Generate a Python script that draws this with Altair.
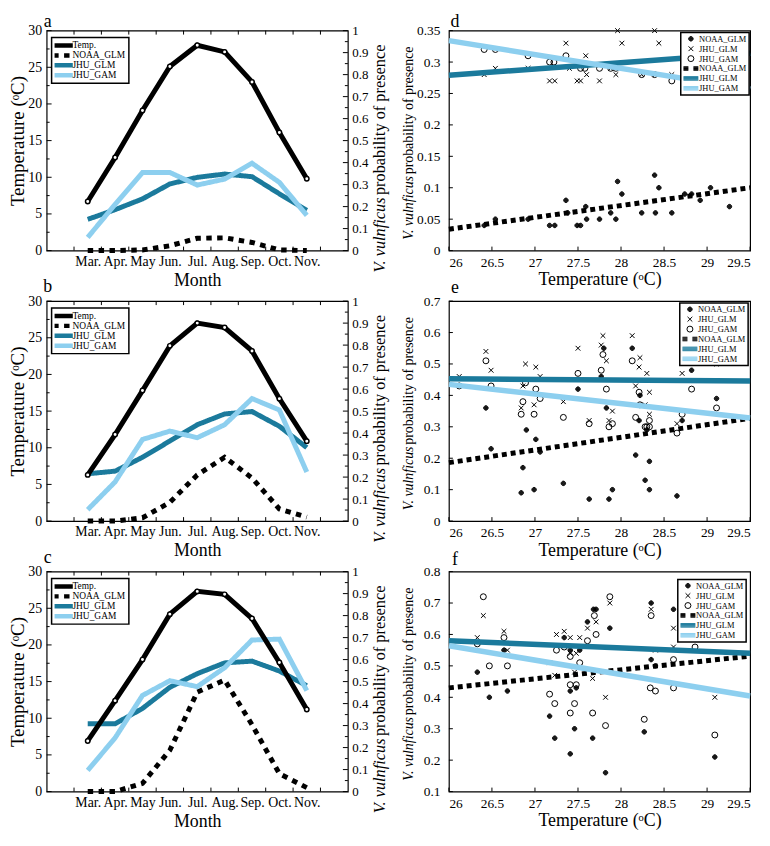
import altair as alt
import pandas as pd

FONT = "Liberation Serif"
TEAL = "#1b7a9c"
LIGHT = "#8dcfef"
W, H = 304, 222

# ---------------- left panels (monthly) ----------------
months = ["Mar.", "Apr.", "May", "Jun.", "Jul.", "Aug.", "Sep.", "Oct.", "Nov."]
month_num = [3, 4, 5, 6, 7, 8, 9, 10, 11]
month_ticks = [2.5, 3.5, 4.5, 5.5, 6.5, 7.5, 8.5, 9.5, 10.5, 11.5]
series_left = ["Temp.", "NOAA_GLM", "JHU_GLM", "JHU_GAM"]
temp_ticks = [0, 5, 10, 15, 20, 25, 30]
temp_minor = [2.5, 7.5, 12.5, 17.5, 22.5, 27.5]
prob_ticks = [0, 0.1, 0.2, 0.3, 0.4, 0.5, 0.6, 0.7, 0.8, 0.9, 1]
prob_minor = [0.05, 0.15, 0.25, 0.35, 0.45, 0.55, 0.65, 0.75, 0.85, 0.95]

temp_a = [6.7, 12.7, 19.1, 25.1, 28.0, 27.1, 23.0, 16.1, 9.8]
noaa_a = [0, 0, 0.003, 0.022, 0.056, 0.058, 0.037, 0.003, 0]
glm_a = [0.142, 0.186, 0.235, 0.303, 0.333, 0.348, 0.336, 0.258, 0.183]
gam_a = [0.06, 0.21, 0.355, 0.355, 0.298, 0.325, 0.397, 0.31, 0.16]

temp_b = [6.3, 11.8, 17.8, 23.9, 27.0, 26.4, 23.2, 16.7, 10.9]
noaa_b = [0, 0, 0.015, 0.085, 0.21, 0.29, 0.196, 0.055, 0.018]
glm_b = [0.215, 0.227, 0.29, 0.364, 0.438, 0.487, 0.498, 0.431, 0.334]
gam_b = [0.052, 0.178, 0.371, 0.409, 0.379, 0.438, 0.557, 0.505, 0.223]

temp_c = [6.9, 12.4, 18.0, 24.2, 27.3, 26.9, 23.6, 17.6, 11.2]
noaa_c = [0, 0, 0.037, 0.188, 0.452, 0.507, 0.304, 0.081, 0.018]
glm_c = [0.308, 0.308, 0.378, 0.474, 0.536, 0.585, 0.593, 0.548, 0.481]
gam_c = [0.096, 0.244, 0.437, 0.504, 0.477, 0.563, 0.689, 0.693, 0.459]

# ---------------- right panels (temperature) ----------------
temp_x_ticks = [26, 26.5, 27, 27.5, 28, 28.5, 29, 29.5]
pt_names = ["NOAA_GLM", "JHU_GLM", "JHU_GAM"]
line_names = ["NOAA_GLM ", "JHU_GLM ", "JHU_GAM "]
line_T = [26, 29.5]

d_ticks = [0, 0.05, 0.1, 0.15, 0.2, 0.25, 0.3, 0.35]
d_noaa_T = [26.41, 26.54, 26.92, 27.17, 27.23, 27.36, 27.38, 27.49, 27.53, 27.59, 27.6, 27.75, 27.88,
            27.94, 27.96, 28.01, 28.24, 28.39, 28.4, 28.44, 28.59, 28.74, 28.82, 28.92, 29.04, 29.26]
d_noaa_p = [0.04, 0.05, 0.05, 0.04, 0.04, 0.08, 0.06, 0.04, 0.04, 0.07, 0.05, 0.05, 0.06,
            0.05, 0.11, 0.09, 0.06, 0.12, 0.06, 0.10, 0.06, 0.09, 0.09, 0.08, 0.10, 0.07]
d_glm_T = [26.41, 26.54, 26.92, 27.17, 27.23, 27.36, 27.4, 27.49, 27.53, 27.59, 27.6, 27.75, 27.88,
           27.94, 27.96, 28.01, 28.24, 28.39, 28.4, 28.44, 28.59, 29.26]
d_glm_p = [0.28, 0.29, 0.29, 0.27, 0.27, 0.33, 0.29, 0.27, 0.27, 0.31, 0.28, 0.27, 0.29,
           0.28, 0.35, 0.33, 0.28, 0.35, 0.28, 0.33, 0.28, 0.26]
d_gam_T = [26.41, 26.54, 26.92, 27.17, 27.22, 27.36, 27.53, 27.58, 27.75, 27.88, 27.94, 28.24,
           28.39, 28.59, 29.04, 29.26, 29.35]
d_gam_p = [0.32, 0.32, 0.31, 0.30, 0.30, 0.31, 0.29, 0.29, 0.29, 0.29, 0.29, 0.28,
           0.28, 0.27, 0.26, 0.26, 0.26]
d_line_noaa = [0.034, 0.10]
d_line_glm = [0.279, 0.314]
d_line_gam = [0.334, 0.257]

e_ticks = [0, 0.1, 0.2, 0.3, 0.4, 0.5, 0.6, 0.7]
e_noaa_T = [26.43, 26.49, 26.84, 26.86, 26.9, 26.99, 27.01, 27.06, 27.33, 27.5, 27.63, 27.77, 27.8, 27.83,
            27.86, 27.9, 28.13, 28.17, 28.21, 28.22, 28.28, 28.3, 28.33, 28.33, 28.65, 28.71, 28.82, 29.11]
e_noaa_p = [0.36, 0.23, 0.09, 0.17, 0.29, 0.10, 0.26, 0.22, 0.12, 0.42, 0.07, 0.46, 0.55, 0.36,
            0.07, 0.10, 0.55, 0.21, 0.32, 0.40, 0.13, 0.29, 0.19, 0.10, 0.08, 0.32, 0.48, 0.39]
e_glm_T = [26.12, 26.43, 26.49, 26.84, 26.86, 26.89, 26.99, 27.01, 27.06, 27.33, 27.5, 27.63, 27.77, 27.79,
           27.83, 27.86, 27.9, 28.13, 28.17, 28.21, 28.22, 28.28, 28.3, 28.33, 28.33, 28.65, 28.71, 29.11]
e_glm_p = [0.46, 0.54, 0.48, 0.36, 0.43, 0.50, 0.37, 0.49, 0.46, 0.38, 0.55, 0.32, 0.56, 0.59,
           0.51, 0.32, 0.35, 0.59, 0.43, 0.49, 0.52, 0.37, 0.47, 0.34, 0.41, 0.31, 0.47, 0.50]
e_gam_T = [26.12, 26.43, 26.49, 26.84, 26.86, 26.89, 26.99, 27.01, 27.06, 27.33, 27.5, 27.63, 27.77, 27.79,
           27.83, 27.86, 27.9, 28.13, 28.17, 28.21, 28.22, 28.28, 28.3, 28.33, 28.33, 28.65, 28.71, 28.82, 29.11]
e_gam_p = [0.43, 0.51, 0.43, 0.34, 0.38, 0.44, 0.34, 0.42, 0.39, 0.33, 0.47, 0.31, 0.48, 0.53,
           0.42, 0.30, 0.31, 0.51, 0.33, 0.41, 0.37, 0.30, 0.30, 0.32, 0.30, 0.28, 0.34, 0.42, 0.36]
e_line_noaa = [0.186, 0.327]
e_line_glm = [0.453, 0.446]
e_line_gam = [0.435, 0.328]

f_ticks = [0.1, 0.2, 0.3, 0.4, 0.5, 0.6, 0.7, 0.8]
f_noaa_T = [26.33, 26.47, 26.64, 26.68, 27.17, 27.23, 27.34, 27.41, 27.41, 27.41, 27.46, 27.48, 27.52,
            27.61, 27.67, 27.68, 27.71, 27.82, 27.87, 28.27, 28.35, 28.35, 28.40, 28.61, 29.09]
f_noaa_p = [0.48, 0.40, 0.55, 0.42, 0.34, 0.27, 0.59, 0.55, 0.42, 0.22, 0.30, 0.43, 0.55,
            0.64, 0.27, 0.68, 0.68, 0.16, 0.62, 0.29, 0.70, 0.52, 0.50, 0.68, 0.21]
f_glm_T = [26.33, 26.40, 26.64, 26.68, 27.17, 27.23, 27.25, 27.34, 27.41, 27.41, 27.46, 27.48, 27.52,
           27.61, 27.67, 27.71, 27.82, 27.87, 28.35, 28.40, 28.61, 28.61, 29.09]
f_glm_p = [0.59, 0.66, 0.61, 0.55, 0.51, 0.47, 0.60, 0.61, 0.59, 0.54, 0.48, 0.54, 0.59,
           0.62, 0.46, 0.64, 0.40, 0.70, 0.68, 0.55, 0.62, 0.56, 0.40]
f_gam_T = [26.33, 26.40, 26.47, 26.64, 26.68, 27.17, 27.23, 27.25, 27.34, 27.41, 27.41, 27.41, 27.46,
           27.48, 27.52, 27.61, 27.67, 27.69, 27.71, 27.82, 27.87, 28.27, 28.34, 28.35, 28.40, 28.61,
           28.61, 28.86, 29.09]
f_gam_p = [0.57, 0.72, 0.50, 0.59, 0.50, 0.41, 0.38, 0.55, 0.56, 0.53, 0.35, 0.44, 0.38,
           0.44, 0.51, 0.58, 0.35, 0.66, 0.60, 0.31, 0.72, 0.33, 0.43, 0.66, 0.42, 0.43,
           0.52, 0.56, 0.28]
f_line_noaa = [0.43, 0.531]
f_line_glm = [0.58, 0.54]
f_line_gam = [0.564, 0.404]

# ---------------- helpers ----------------
DUMMY = pd.DataFrame({"d": [0]})
LABEL_EXPR = "[" + ",".join("'%s'" % m for m in months) + "][datum.value - %d]" % month_num[0]
TEMP_TITLE = "Temperature (\u1d52C)"


def ring(r):
    return "M-%s,0A%s,%s 0 1,0 %s,0A%s,%s 0 1,0 -%s,0" % (r, r, r, r, r, r, r)


# symbol paths (unit box -1..1, scaled by sqrt(size)/2)
DOT = "".join(ring(r) for r in ["0.75", "0.58", "0.41", "0.24", "0.08"])
XP = "M-0.8,-0.8L0.8,0.8M-0.8,0.8L0.8,-0.8"
BAND = "".join("M-2.5,%sH2.5" % y for y in ["-0.6", "-0.3", "0", "0.3", "0.6"])
DASHB = "".join("M-2.5,%sH-0.85M0.85,%sH2.5" % (y, y) for y in ["-0.6", "-0.3", "0", "0.3", "0.6"])


def yrules(values, scale, axis, x0, x1):
    return alt.Chart(pd.DataFrame({"v": values})).mark_rule(color="black", strokeWidth=1).encode(
        y=alt.Y("v:Q", scale=scale, axis=axis), x=alt.value(x0), x2=alt.value(x1))


def xrules(values, scale, axis, y0, y1):
    return alt.Chart(pd.DataFrame({"v": values})).mark_rule(color="black", strokeWidth=1).encode(
        x=alt.X("v:Q", scale=scale, axis=axis), y=alt.value(y0), y2=alt.value(y1))


def vtext(txt, x, y, size, italic):
    return alt.Chart(DUMMY).mark_text(
        text=txt, font=FONT, fontSize=size, fontStyle="italic" if italic else "normal",
        angle=270, align="left", baseline="alphabetic", color="black"
    ).encode(x=alt.value(x), y=alt.value(y))


def letter_text(ch, x, y):
    return alt.Chart(DUMMY).mark_text(
        text=ch, font=FONT, fontSize=18, align="center", baseline="alphabetic", color="black"
    ).encode(x=alt.value(x), y=alt.value(y))


def left_panel(letter, letter_y, temp, noaa, glm, gam):
    xs = alt.Scale(domain=[1.5, 12.5], nice=False, zero=False)
    x_axis = alt.Axis(values=month_num, labelExpr=LABEL_EXPR, title="Month", labelFontSize=14,
                      labelOverlap=False, labelPadding=4, titleFontSize=18, titlePadding=3)
    ys_t = alt.Scale(domain=[0, 30], nice=False, zero=False)
    ys_p = alt.Scale(domain=[0, 1], nice=False, zero=False)
    yt_axis = alt.Axis(orient="left", values=temp_ticks, title=TEMP_TITLE, labelFontSize=14,
                       labelPadding=5, titleFontSize=19, titlePadding=0)
    yp_axis = alt.Axis(orient="right", values=prob_ticks, format="~g", title=None,
                       labelFontSize=13, labelPadding=4)
    x_enc = alt.X("m:Q", scale=xs, axis=x_axis)
    yt_enc = alt.Y("t:Q", scale=ys_t, axis=yt_axis)
    yp_enc = alt.Y("p:Q", scale=ys_p, axis=yp_axis)
    leg = alt.Legend(title=None, orient="none", legendX=5, legendY=7, strokeColor="black",
                     fillColor="white", padding=3, rowPadding=0, clipHeight=10, symbolType="M-3.3,0H3.3",
                     symbolSize=36, symbolStrokeWidth=4.5, symbolOffset=3, labelOffset=4,
                     labelFontSize=9.5, labelFont=FONT, labelColor="black")
    color = alt.Color("s:N", scale=alt.Scale(domain=series_left, range=["black", "black", TEAL, LIGHT]),
                      legend=leg)
    dash = alt.StrokeDash("s:N", scale=alt.Scale(domain=series_left,
                                                 range=[[1, 0], [5.5, 5.5], [1, 0], [1, 0]]), legend=leg)
    prob_df = pd.DataFrame({"m": month_num * 3, "p": noaa + glm + gam,
                            "s": ["NOAA_GLM"] * 9 + ["JHU_GLM"] * 9 + ["JHU_GAM"] * 9})
    temp_df = pd.DataFrame({"m": month_num, "t": temp, "s": ["Temp."] * 9})

    prob_lines = alt.Chart(prob_df).mark_line(strokeWidth=5).encode(
        x=x_enc, y=yp_enc, color=color, strokeDash=dash)
    prob_group = alt.layer(
        prob_lines,
        yrules(prob_ticks, ys_p, yp_axis, W - 5, W),
        yrules(prob_minor, ys_p, yp_axis, W - 3, W),
        xrules(month_ticks, xs, x_axis, H - 4, H),
        xrules(month_ticks, xs, x_axis, 0, 4),
    )
    temp_line = alt.Chart(temp_df).mark_line(strokeWidth=5).encode(x=x_enc, y=yt_enc, color=color)
    temp_pts = alt.Chart(temp_df).mark_point(
        shape="circle", filled=True, fill="white", stroke="black", strokeWidth=1.5, size=20, opacity=1
    ).encode(x=x_enc, y=yt_enc)
    temp_group = alt.layer(
        temp_line, temp_pts,
        yrules(temp_ticks, ys_t, yt_axis, 0, 5),
        yrules(temp_minor, ys_t, yt_axis, 0, 3),
    )
    return alt.layer(
        prob_group, temp_group,
        letter_text(letter, 1, letter_y),
        vtext("V. vulnficus", W + 37, 244, 16.5, True),
        vtext(" probability of presence", W + 37, 244 - 78, 16.5, False),
    ).resolve_scale(y="independent").properties(width=W, height=H)


def right_panel(letter, letter_y, ydom, yticks, noaaT, noaaP, glmT, glmP, gamT, gamP,
                l_noaa, l_glm, l_gam, lx, ly):
    xs = alt.Scale(domain=[26, 29.5], nice=False, zero=False)
    ys = alt.Scale(domain=ydom, nice=False, zero=False)
    x_axis = alt.Axis(values=temp_x_ticks, format="~g", title=TEMP_TITLE, labelFontSize=13.5,
                      labelPadding=5, titleFontSize=18, titlePadding=2)
    y_axis = alt.Axis(values=yticks, format="~g", title=None, labelFontSize=13.5, labelPadding=9)
    x_enc = alt.X("T:Q", scale=xs, axis=x_axis)
    y_enc = alt.Y("p:Q", scale=ys, axis=y_axis)
    domain_r = pt_names + line_names
    leg = alt.Legend(title=None, orient="none", legendX=lx, legendY=ly, strokeColor="black",
                     fillColor="white", padding=2, rowPadding=1, clipHeight=8.5, symbolSize=36,
                     symbolStrokeWidth=1, symbolOffset=4, labelOffset=4, labelFontSize=8.5,
                     labelFont=FONT, labelColor="black")
    color = alt.Color("s:N", scale=alt.Scale(domain=domain_r, range=["black"] * 4 + [TEAL, LIGHT]),
                      legend=leg)
    shape = alt.Shape("s:N", scale=alt.Scale(domain=domain_r,
                                             range=[DOT, XP, "circle", DASHB, BAND, BAND]), legend=leg)
    pts_df = pd.DataFrame({
        "T": noaaT + glmT + gamT, "p": noaaP + glmP + gamP,
        "s": [pt_names[0]] * len(noaaT) + [pt_names[1]] * len(glmT) + [pt_names[2]] * len(gamT)})
    noaa_df = pd.DataFrame({"T": line_T, "p": l_noaa, "s": [line_names[0]] * 2})
    lines_df = pd.DataFrame({"T": line_T * 2, "p": l_glm + l_gam,
                             "s": [line_names[1]] * 2 + [line_names[2]] * 2})
    pts = alt.Chart(pts_df).mark_point(filled=False, size=36, strokeWidth=1, opacity=1).encode(
        x=x_enc, y=y_enc, color=color, shape=shape)
    noaa_line = alt.Chart(noaa_df).mark_line(strokeWidth=5, strokeDash=[5, 4]).encode(
        x=x_enc, y=y_enc, color=color)
    other_lines = alt.Chart(lines_df).mark_line(strokeWidth=5.5).encode(
        x=x_enc, y=y_enc, color=color)
    return alt.layer(
        pts, noaa_line, other_lines,
        yrules(yticks, ys, y_axis, 0, 4),
        xrules(temp_x_ticks, xs, x_axis, H - 4, H),
        letter_text(letter, 6, letter_y),
        vtext("V. vulnficus", -36, 211, 14, True),
        vtext(" probability of presence", -36, 211 - 66, 14, False),
    ).properties(width=W, height=H)


pa = left_panel("a", -4, temp_a, noaa_a, glm_a, gam_a)
pb = left_panel("b", -9, temp_b, noaa_b, glm_b, gam_b)
pc = left_panel("c", -9, temp_c, noaa_c, glm_c, gam_c)
pdd = right_panel("d", -4, [0, 0.35], d_ticks, d_noaa_T, d_noaa_p, d_glm_T, d_glm_p, d_gam_T, d_gam_p,
                  d_line_noaa, d_line_glm, d_line_gam, 234, 2)
pe = right_panel("e", -8, [0, 0.7], e_ticks, e_noaa_T, e_noaa_p, e_glm_T, e_glm_p, e_gam_T, e_gam_p,
                 e_line_noaa, e_line_glm, e_line_gam, 233, 2)
pf = right_panel("f", -7, [0.1, 0.8], f_ticks, f_noaa_T, f_noaa_p, f_glm_T, f_glm_p, f_gam_T, f_gam_p,
                 f_line_noaa, f_line_glm, f_line_gam, 231, 8)

chart = alt.concat(
    pa, pdd, pb, pe, pc, pf, columns=2, spacing={"row": 51, "column": 102}, bounds="flush"
).resolve_scale(
    color="independent", shape="independent", strokeDash="independent"
).properties(
    padding={"left": 0, "top": 0, "right": 0, "bottom": 0}
).configure(font=FONT).configure_view(
    stroke="black", strokeWidth=1.2
).configure_axis(
    grid=False, domain=False, ticks=False, labelFont=FONT, titleFont=FONT, labelColor="black",
    titleColor="black", titleFontWeight="normal"
).configure_legend(strokeWidth=1.5)

chart.save("out.html", embed_options={"renderer": "svg", "actions": False})
